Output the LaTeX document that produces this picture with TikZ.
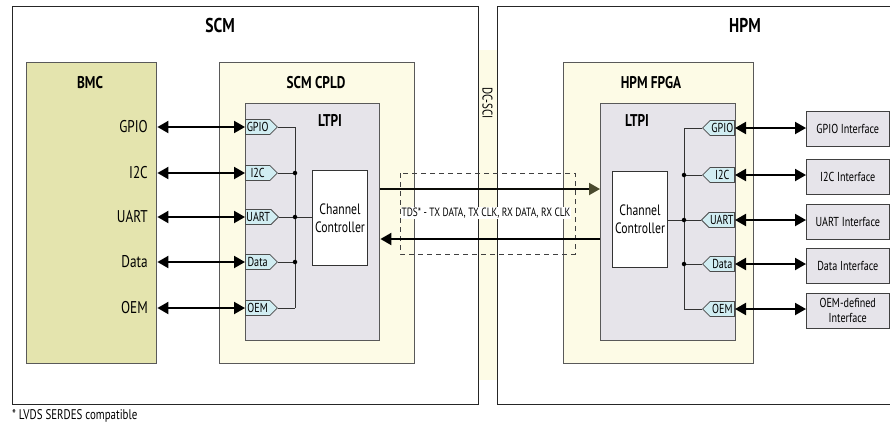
\documentclass[tikz,border=0pt]{standalone}
\usepackage{fontspec}
\setmainfont{PT Sans}[FakeStretch=0.78]
\usetikzlibrary{shapes.symbols,arrows.meta}
\definecolor{bmcc}{HTML}{E4E4AE}
\definecolor{creamc}{HTML}{FDFBE6}
\definecolor{ltpic}{HTML}{E6E4EA}
\definecolor{portc}{HTML}{D1EDF2}
\definecolor{olivec}{HTML}{4A4A2E}
\tikzset{
  outerbox/.style={draw=black!85, line width=1.2pt, anchor=north west, inner sep=0pt},
  innerbox/.style={draw=black!65, line width=1.4pt, anchor=north west, inner sep=0pt},
  lbl/.style={font=\fontsize{17}{19}\selectfont, inner sep=0pt},
  ttl/.style={font=\bfseries\fontsize{17}{19}\selectfont, inner sep=0pt},
  bigttl/.style={font=\bfseries\fontsize{20}{22}\selectfont, inner sep=0pt},
  port/.style={signal, draw=black!70, fill=portc, line width=0.8pt, minimum width=32pt, minimum height=15pt, inner sep=1pt, font=\fontsize{13}{14}\selectfont},
  bi/.style={line width=2pt, {Triangle[length=11pt,width=12pt]}-{Triangle[length=11pt,width=12pt]}},
  one/.style={line width=2pt, -{Triangle[length=11pt,width=12pt]}},
  bus/.style={draw=black!80, line width=1pt},
  jdot/.style={circle, fill=black, inner sep=0pt, minimum size=4.5pt},
  ifbox/.style={draw=black!75, fill=ltpic, line width=1pt, minimum width=82.5pt, minimum height=35pt, inner sep=1pt, anchor=west, font=\fontsize{13}{15}\selectfont, align=center},
  ccbox/.style={draw=black!80, fill=white, line width=1pt, anchor=north west, inner sep=0pt, font=\fontsize{15}{18}\selectfont, align=center},
}
\begin{document}
\begin{tikzpicture}[x=1pt,y=-1pt]
\useasboundingbox (0,0) rectangle (890,426);
% DC-SCI strip
\fill[creamc] (478,50) rectangle (497,380);
\node[font=\fontsize{14}{15}\selectfont, rotate=-90, inner sep=0pt] (dcsci) at (487.5,103) {DC-SCI};
% outer boxes
\node[outerbox, minimum width=466pt, minimum height=398pt] (scm) at (12,6) {};
\node[outerbox, minimum width=400pt, minimum height=398pt] (hpm) at (497,6) {};
\node[bigttl] (scmt) at (220,25) {SCM};
\node[bigttl] (hpmt) at (745,25) {HPM};
% inner boxes
\node[innerbox, fill=bmcc, minimum width=130pt, minimum height=301pt] (bmc) at (26,62) {};
\node[innerbox, fill=creamc, minimum width=195pt, minimum height=301pt] (cpld) at (219,62) {};
\node[innerbox, fill=creamc, minimum width=190pt, minimum height=301pt] (fpga) at (563,62) {};
\node[innerbox, fill=ltpic, minimum width=134pt, minimum height=237pt] (ltpil) at (245,103) {};
\node[innerbox, fill=ltpic, minimum width=135pt, minimum height=237pt] (ltpir) at (600,103) {};
\node[ttl] (bmct) at (90,83) {BMC};
\node[ttl] (cpldt) at (316,83) {SCM CPLD};
\node[ttl] (fpgat) at (651,83) {HPM FPGA};
\node[ttl] (ltpilt) at (330,120) {LTPI};
\node[ttl] (ltpirt) at (637,120) {LTPI};
% channel controllers
\node[ccbox, minimum width=55pt, minimum height=95pt] (ccl) at (312,170) {Channel\\Controller};
\node[ccbox, minimum width=55pt, minimum height=96pt] (ccr) at (612,171) {Channel\\Controller};
% left ports
\foreach \n/\t/\y in {gpio/GPIO/127, i2c/I2C/173, uart/UART/217, data/Data/262, oem/OEM/308} {
  \node[port, signal to=east, anchor=west] (lp\n) at (245,\y) {\t};
  \node[lbl, anchor=east] (bl\n) at (148,\y) {\t};
  \coordinate (lb\n) at (295,\y);
  \draw[bi] (bmc.east |- lp\n.west) -- (lp\n.west);
  \draw[bus] (lp\n.east) -- (lb\n);
}
\draw[bus] (lbgpio) -- (lboem);
\draw[bus] (lbuart) -- (ccl.west |- lbuart);
\foreach \n in {i2c,uart,data} \node[jdot] at (lb\n) {};
% right ports
\foreach \n/\t/\y/\iy/\it in {gpio/GPIO/128/128.5/GPIO Interface, i2c/I2C/175/176.5/I2C Interface, uart/UART/220/221.5/UART Interface, data/Data/264/265.5/Data Interface, oem/OEM/309/310.5/{OEM-defined\\Interface}} {
  \node[port, signal to=west, anchor=east] (rp\n) at (735,\y) {\t};
  \coordinate (rb\n) at (684,\y);
  \node[ifbox] (if\n) at (806,\iy) {\it};
  \draw[bi] (rp\n.east) -- (if\n.west |- rp\n.east);
  \draw[bus] (rp\n.west) -- (rb\n);
}
\draw[bus] (rbgpio) -- (rboem);
\draw[bus] (rbuart) -- (ccr.east |- rbuart);
\foreach \n in {i2c,uart,data} \node[jdot] at (rb\n) {};
% link
\draw[black!75, line width=0.9pt, dash pattern=on 5pt off 4pt] (400,173) rectangle (575,254);
\coordinate (ta) at (ltpil.east |- 0,189);
\coordinate (tb) at (ltpir.west |- 0,189);
\coordinate (ra) at (ltpir.west |- 0,239);
\coordinate (rbk) at (ltpil.east |- 0,239);
\draw[line width=2pt, black!85!olivec, -{Triangle[length=11pt,width=12pt,color=olivec]}] (ta) -- (tb);
\draw[one] (ra) -- (rbk);
\node[fill=white, inner sep=1pt, font=\fontsize{12}{13}\selectfont] (tds) at (486,213) {TDS* - TX DATA, TX CLK, RX DATA, RX CLK};
% footnote
\node[anchor=west, inner sep=0pt, font=\fontsize{14}{16}\selectfont] (fn) at (12,416) {* LVDS SERDES compatible};
\end{tikzpicture}
\end{document}
